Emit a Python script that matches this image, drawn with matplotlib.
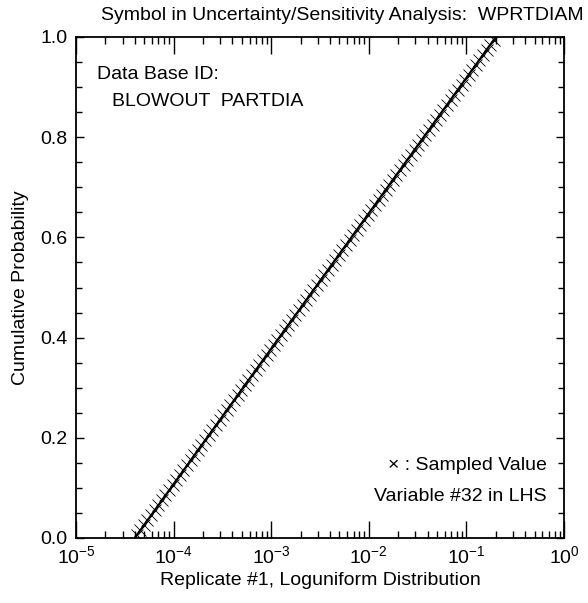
import numpy as np
import matplotlib
matplotlib.use("Agg")
import matplotlib.pyplot as plt
from matplotlib.ticker import LogLocator, MultipleLocator, NullFormatter

plt.rcParams['font.family'] = ['Liberation Sans', 'DejaVu Sans']
plt.rcParams['mathtext.fontset'] = 'custom'
plt.rcParams['mathtext.rm'] = 'Liberation Sans'

# loguniform range (theoretical CDF end points)
cdf_x = [4.0e-5, 2.0e-1]
cdf_y = [0.0, 1.0]

samples = [
    4.17e-5, 4.55e-5, 4.95e-5, 5.39e-5, 5.87e-5, 6.39e-5, 6.96e-5, 7.58e-5, 8.25e-5, 8.99e-5,
    9.78e-5, 1.07e-4, 1.16e-4, 1.26e-4, 1.38e-4, 1.50e-4, 1.63e-4, 1.78e-4, 1.93e-4, 2.11e-4,
    2.29e-4, 2.50e-4, 2.72e-4, 2.96e-4, 3.22e-4, 3.51e-4, 3.82e-4, 4.16e-4, 4.53e-4, 4.94e-4,
    5.37e-4, 5.85e-4, 6.37e-4, 6.94e-4, 7.56e-4, 8.23e-4, 8.96e-4, 9.76e-4, 1.06e-3, 1.16e-3,
    1.26e-3, 1.37e-3, 1.49e-3, 1.63e-3, 1.77e-3, 1.93e-3, 2.10e-3, 2.29e-3, 2.49e-3, 2.71e-3,
    2.95e-3, 3.21e-3, 3.50e-3, 3.81e-3, 4.15e-3, 4.52e-3, 4.92e-3, 5.36e-3, 5.83e-3, 6.35e-3,
    6.92e-3, 7.53e-3, 8.20e-3, 8.93e-3, 9.73e-3, 1.06e-2, 1.15e-2, 1.26e-2, 1.37e-2, 1.49e-2,
    1.62e-2, 1.77e-2, 1.92e-2, 2.09e-2, 2.28e-2, 2.48e-2, 2.70e-2, 2.94e-2, 3.20e-2, 3.49e-2,
    3.80e-2, 4.14e-2, 4.51e-2, 4.91e-2, 5.34e-2, 5.82e-2, 6.33e-2, 6.90e-2, 7.51e-2, 8.18e-2,
    8.91e-2, 9.70e-2, 1.06e-1, 1.15e-1, 1.25e-1, 1.36e-1, 1.48e-1, 1.62e-1, 1.76e-1, 1.92e-1,
]
probs = [(i + 0.5) / len(samples) for i in range(len(samples))]

fig = plt.figure(figsize=(5.88, 6.03), dpi=100)
ax = fig.add_axes([76 / 588, 1 - 538 / 603, 488 / 588, 501 / 603])

ax.plot(cdf_x, cdf_y, color='black', lw=1.5)
ax.plot(samples, probs, ls='none', marker='x', ms=8, mew=0.6, color='black')

ax.set_xscale('log')
ax.set_xlim(1e-5, 1e0)
ax.set_ylim(0, 1)

ax.xaxis.set_major_locator(LogLocator(base=10, numticks=10))
ax.xaxis.set_minor_locator(LogLocator(base=10, subs=np.arange(2, 10), numticks=50))
ax.xaxis.set_minor_formatter(NullFormatter())
ax.yaxis.set_major_locator(MultipleLocator(0.2))
ax.yaxis.set_minor_locator(MultipleLocator(0.05))
ax.yaxis.set_major_formatter(plt.FuncFormatter(lambda v, p: f"{v:.1f}"))

ax.tick_params(which='both', direction='in', top=True, right=True, width=1, labelsize=14)
ax.tick_params(axis='x', which='major', length=12, pad=5)
ax.tick_params(axis='x', which='minor', length=5)
ax.tick_params(axis='y', which='major', length=6, pad=6)
ax.tick_params(axis='y', which='minor', length=4)
for s in ax.spines.values():
    s.set_linewidth(1.3)

ax.set_xlabel('Replicate #1, Loguniform Distribution', fontsize=14, labelpad=4)
ax.set_ylabel('Cumulative Probability', fontsize=14, labelpad=8)
fig.text(0.992, 1 - 16 / 603, 'Symbol in Uncertainty/Sensitivity Analysis:  WPRTDIAM',
         ha='right', va='center', fontsize=14)

ax.text(0.043, 0.925, 'Data Base ID:', transform=ax.transAxes, fontsize=14, va='center')
ax.text(0.073, 0.872, 'BLOWOUT  PARTDIA', transform=ax.transAxes, fontsize=14, va='center')
ax.text(0.965, 0.145, '\u00d7 : Sampled Value', transform=ax.transAxes, fontsize=14,
        ha='right', va='center')
ax.text(0.965, 0.082, 'Variable #32 in LHS', transform=ax.transAxes, fontsize=14,
        ha='right', va='center')

fig.savefig('out.png', dpi=100)
